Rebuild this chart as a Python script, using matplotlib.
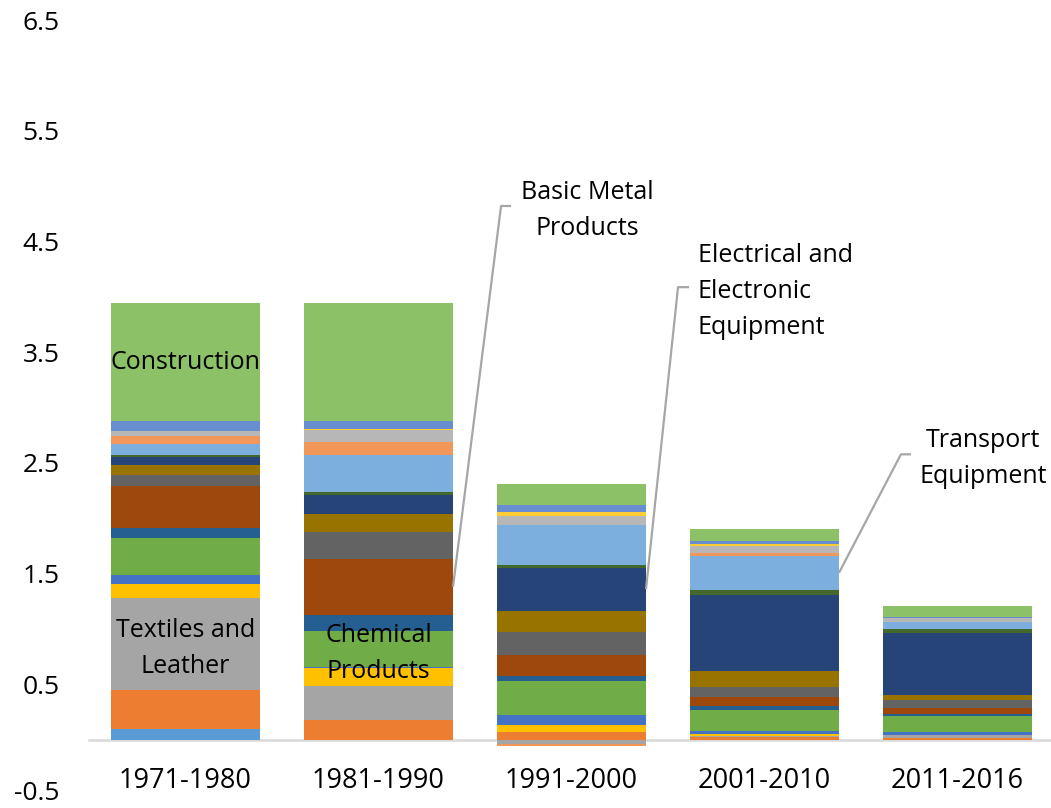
import numpy as np
import matplotlib.pyplot as plt
import matplotlib.transforms as mtransforms

plt.rcParams['font.family'] = ['Open Sans', 'DejaVu Sans']
plt.rcParams['axes.unicode_minus'] = False

# periodos (eje x)
periods = ["1971-1980", "1981-1990", "1991-2000", "2001-2010", "2011-2016"]

# sectores en el orden de apilado (de abajo hacia arriba)
sectors = ["Sector 1", "Sector 2", "Textiles and Leather", "Sector 4", "Sector 5",
           "Chemical Products", "Sector 7", "Basic Metal Products", "Sector 9",
           "Sector 10", "Electrical and Electronic Equipment", "Sector 12",
           "Transport Equipment", "Sector 14", "Sector 15", "Sector 16",
           "Sector 17", "Construction"]

# valores, un arreglo por periodo
v_1971_1980 = [0.10, 0.35, 0.83, 0.13, 0.08, 0.33, 0.09, 0.38, 0.10, 0.09,
               0.07, 0.02, 0.10, 0.07, 0.05, 0.00, 0.09, 1.06]
v_1981_1990 = [0.00, 0.175, 0.31, 0.16, 0.01, 0.33, 0.145, 0.50, 0.245, 0.16,
               0.175, 0.025, 0.335, 0.115, 0.11, 0.01, 0.075, 1.065]
v_1991_2000 = [0.00, 0.066, -0.042, 0.063, 0.09, 0.31, 0.045, 0.19, 0.21, 0.19,
               0.39, 0.024, 0.36, -0.012, 0.078, 0.036, 0.066, 0.19]
v_2001_2010 = [0.00, 0.02, 0.012, 0.018, 0.03, 0.19, 0.03, 0.084, 0.09, 0.15,
               0.68, 0.048, 0.31, 0.024, 0.06, 0.024, 0.02, 0.11]
v_2011_2016 = [0.00, 0.018, 0.024, 0.00, 0.024, 0.15, 0.02, 0.05, 0.07, 0.045,
               0.56, 0.04, 0.066, 0.00, 0.033, 0.00, 0.012, 0.093]

colors = ["#5B9BD5", "#ED7D31", "#A5A5A5", "#FFC000", "#4472C4", "#70AD47",
          "#255E91", "#9E480E", "#636363", "#997300", "#264478", "#43682B",
          "#7CAFDD", "#F1975A", "#B7B7B7", "#FFCD33", "#698ED0", "#8CC168"]

data = np.array([v_1971_1980, v_1981_1990, v_1991_2000, v_2001_2010, v_2011_2016]).T

fig = plt.figure(figsize=(10.51, 8.08), dpi=100)
ax = fig.add_axes([89 / 1051, 13 / 808, 965 / 1051, 775 / 808])

x = np.arange(len(periods))
width = 0.772
pos_bottom = np.zeros(len(periods))
neg_bottom = np.zeros(len(periods))
mids = {}
for i, name in enumerate(sectors):
    vals = data[i]
    bottom = np.where(vals >= 0, pos_bottom, neg_bottom)
    ax.bar(x, vals, width, bottom=bottom, color=colors[i], linewidth=0)
    mids[name] = bottom + vals / 2
    pos_bottom = pos_bottom + np.where(vals >= 0, vals, 0)
    neg_bottom = neg_bottom + np.where(vals < 0, vals, 0)

fs = 18
ls = 1.58
dy = 0.04  # pequeno ajuste vertical del texto
# etiquetas dentro de las barras
ax.text(0, mids["Construction"][0], "Construction", ha='center', va='center', fontsize=fs)
ax.text(0, mids["Textiles and Leather"][0] - dy, "Textiles and\nLeather", ha='center',
        va='center', fontsize=fs, linespacing=ls)
ax.text(1, mids["Chemical Products"][1] - dy, "Chemical\nProducts", ha='center',
        va='center', fontsize=fs, linespacing=ls)

# etiquetas con linea guia
right = width / 2
callouts = [
    ("Basic Metal Products", 1, "Basic Metal\nProducts", 1.635, 1.687, 4.82, 2.08, 'center'),
    ("Electrical and Electronic Equipment", 2, "Electrical and\nElectronic\nEquipment",
     2.552, 2.609, 4.087, 2.655, 'left'),
    ("Transport Equipment", 3, "Transport\nEquipment", 3.707, 3.759, 2.577, 4.132, 'center'),
]
for name, k, label, xe, xh, yt, xt, ha in callouts:
    ax.plot([k + right, xe, xh], [mids[name][k], yt, yt], color='#A6A6A6', lw=1.6,
            solid_capstyle='butt')
    ax.text(xt, yt - dy, label, ha=ha, va='center', fontsize=fs, linespacing=ls,
            multialignment=ha)

ax.set_xlim(-0.5, 4.5)
ax.set_ylim(-0.5, 6.5)
ax.set_yticks(np.arange(-0.5, 7, 1))
ax.set_yticklabels([f"{t:.1f}" for t in np.arange(-0.5, 7, 1)])
ax.set_xticks(x)
ax.set_xticklabels(periods)
ax.tick_params(axis='y', length=0, pad=21, labelsize=19)
ax.tick_params(axis='x', length=0, pad=20, labelsize=19.5)

# la etiqueta -0.5 queda pegada al borde inferior; se sube un poco
lbl = ax.get_yticklabels()[0]
lbl.set_transform(lbl.get_transform() + mtransforms.ScaledTranslation(0, 3 / 72, fig.dpi_scale_trans))

for s in ['top', 'right', 'left']:
    ax.spines[s].set_visible(False)
ax.spines['bottom'].set_position(('data', 0))
ax.spines['bottom'].set_color('#D9D9D9')
ax.spines['bottom'].set_linewidth(1.8)
ax.spines['bottom'].set_zorder(0.5)

fig.savefig("out.png", dpi=100)
